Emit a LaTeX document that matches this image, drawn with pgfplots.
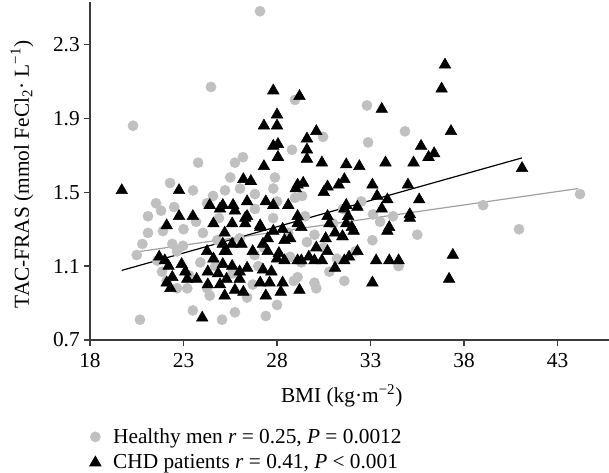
\documentclass[border=0pt]{standalone}
\usepackage{fontspec}
\setmainfont{Liberation Serif}
\usepackage{pgfplots}
\pgfplotsset{compat=1.18}
\definecolor{ptgray}{RGB}{192,192,192}
\definecolor{lngray}{RGB}{160,160,160}
\definecolor{axgray}{RGB}{60,60,60}
\begin{document}
\begin{tikzpicture}
\begin{axis}[name=ax, scale only axis, width=389.25pt, height=253.5pt,
  xmin=18, xmax=45.75, ymin=0.7, ymax=2.53,
  axis x line=bottom, axis y line=left,
  axis line style={axgray, line width=1.4pt, -},
  xtick={18,23,28,33,38,43}, ytick={0.7,1.1,1.5,1.9,2.3},
  yticklabel style={/pgf/number format/fixed, /pgf/number format/precision=1, /pgf/number format/fixed zerofill},
  tick align=outside, major tick length=4.2pt,
  tick style={axgray, line width=1pt},
  /pgf/number format/assume math mode=true,
  ticklabel style={font=\fontsize{16}{18}\selectfont},
  xticklabel style={yshift=-2.5pt},
  label style={font=\fontsize{16}{18}\selectfont},
  xlabel={BMI (kg·m\textsuperscript{−2})},
  xlabel style={at={(axis description cs:0.485,-0.1657)}, anchor=center},
  ylabel={TAC-FRAS (mmol FeCl\textsubscript{2}· L\textsuperscript{−1})},
  ylabel style={at={(axis description cs:-0.131,0.49)}, anchor=center},
  legend style={at={(axis description cs:-0.009,-0.249)}, anchor=north west, draw=none, fill=none,
    font=\fontsize{16}{18}\selectfont, row sep=5pt, column sep=8pt, nodes={inner sep=1pt}},
  legend cell align=left,
]
\addplot[only marks, mark=*, mark size=3.8pt, mark options={draw=ptgray, fill=ptgray}] table {
24.47 2.07
27.09 2.48
28.96 2.00
32.81 1.97
20.30 1.86
23.78 1.66
25.75 1.66
26.18 1.69
22.28 1.55
23.51 1.51
25.22 1.51
24.58 1.48
24.26 1.44
21.53 1.44
21.10 1.37
23.67 1.34
30.46 1.80
28.80 1.73
27.89 1.58
26.02 1.52
26.82 1.49
29.34 1.48
28.96 1.47
26.82 1.41
28.00 1.45
27.79 1.36
29.50 1.37
34.84 1.83
32.87 1.77
33.13 1.38
34.20 1.37
33.51 1.34
31.53 1.41
44.20 1.49
40.94 1.30
39.02 1.43
21.10 1.28
21.90 1.29
22.40 1.22
22.65 1.18
21.60 1.13
21.85 1.07
22.10 1.02
22.65 0.98
23.20 0.98
20.67 0.81
23.50 0.86
25.06 0.81
24.04 1.28
24.26 0.98
22.97 1.21
24.80 1.24
24.40 0.94
25.75 0.85
27.40 0.83
28.00 0.89
29.10 1.04
28.90 1.02
30.00 1.01
30.10 0.98
31.60 1.02
30.80 1.07
31.20 1.14
30.00 1.27
26.70 1.00
26.80 1.16
33.10 1.24
35.50 1.27
34.50 1.10
32.20 1.18
23.00 1.30
24.90 1.36
26.00 1.25
27.30 1.20
28.60 1.28
29.60 1.23
25.60 1.06
27.00 1.10
29.30 1.12
22.50 1.42
25.50 1.58
27.80 1.52
31.00 1.33
32.50 1.45
21.80 1.40
20.80 1.22
20.50 1.16
23.90 1.12
26.40 0.93
28.70 1.15
30.50 1.20
23.30 1.05
24.70 1.10
};
\addlegendentry{Healthy men \textit{r} = 0.25, \textit{P} = 0.0012}
\addplot[only marks, mark=triangle*, mark size=5pt, mark options={draw=black, fill=black}] table {
19.70 1.51
22.76 1.51
24.40 1.43
25.10 1.43
24.95 1.41
22.76 1.37
23.50 1.37
22.10 1.32
24.60 1.33
27.30 1.86
28.00 1.86
29.60 1.79
30.10 1.83
28.05 1.76
27.80 1.75
29.60 1.73
28.05 1.69
29.60 1.68
30.40 1.66
27.30 1.64
26.20 1.57
26.60 1.56
29.10 1.54
29.40 1.55
29.00 1.52
30.70 1.53
31.30 1.54
30.50 1.50
25.65 1.43
26.40 1.45
27.40 1.45
27.80 1.43
28.60 1.43
26.40 1.37
25.75 1.40
29.10 1.37
30.70 1.37
31.60 1.41
27.10 1.32
26.30 1.33
29.10 1.33
30.80 1.33
27.80 2.05
29.20 2.02
28.00 1.92
36.98 2.19
36.80 2.06
33.60 1.95
37.30 1.83
35.70 1.75
36.40 1.71
36.10 1.69
31.70 1.65
32.40 1.64
33.80 1.66
35.30 1.66
31.60 1.57
33.10 1.54
35.00 1.54
33.35 1.48
33.90 1.46
35.60 1.46
31.70 1.43
32.30 1.42
33.60 1.41
35.10 1.38
31.80 1.37
32.00 1.31
34.00 1.31
41.10 1.63
21.70 1.15
22.00 1.13
22.20 1.10
22.90 1.11
23.10 1.07
22.40 1.04
23.20 1.03
23.70 1.03
22.10 1.01
22.30 0.98
24.30 1.00
24.26 1.18
24.60 1.14
24.30 1.07
24.85 1.06
24.95 1.00
25.20 0.94
25.10 1.22
24.00 0.82
25.20 1.18
25.60 1.33
26.30 1.36
27.10 1.31
25.20 1.28
27.80 1.29
28.30 1.30
28.40 1.24
28.70 1.25
27.50 1.25
29.30 1.31
30.60 1.25
31.10 1.28
31.50 1.26
31.70 1.33
25.60 1.22
26.10 1.22
26.70 1.18
27.25 1.22
27.50 1.18
25.30 1.18
28.10 1.17
30.10 1.20
30.70 1.18
29.30 1.13
29.70 1.15
30.00 1.13
30.40 1.13
31.60 1.13
28.40 1.13
28.00 1.14
29.10 1.13
31.10 1.09
25.10 1.11
25.60 1.10
26.40 1.09
26.00 1.07
27.25 1.08
27.70 1.07
25.30 1.03
26.00 1.03
27.10 1.01
27.60 1.01
28.30 1.01
25.75 0.97
26.20 0.96
27.40 0.94
28.20 0.96
29.20 0.97
32.10 1.29
31.50 1.26
33.90 1.29
35.10 1.36
32.30 1.18
31.85 1.15
33.30 1.13
34.00 1.13
34.50 1.13
37.40 1.16
33.10 1.01
37.20 1.03
};
\addlegendentry{CHD patients \textit{r} = 0.41, \textit{P} < 0.001}
\addplot[forget plot, lngray, line width=0.9pt] coordinates {(20.3,1.174) (44.1,1.52)};
\addplot[forget plot, black, line width=0.9pt] coordinates {(19.7,1.077) (41.1,1.686)};
\end{axis}
\pgfresetboundingbox
\path ([xshift=-67.5pt,yshift=-99pt]ax.south west) rectangle ([yshift=1.5pt]ax.north east);
\end{tikzpicture}
\end{document}
